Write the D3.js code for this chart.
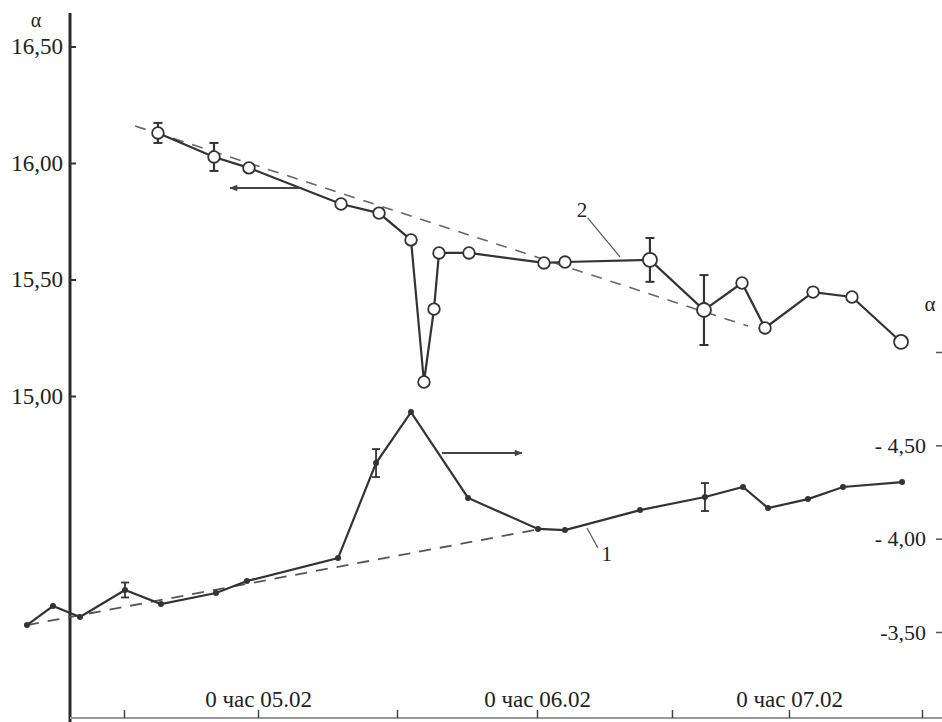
<!DOCTYPE html>
<html>
<head>
<meta charset="utf-8">
<script src="https://cdn.jsdelivr.net/npm/d3@7"></script>
<style>
  body { margin: 0; background: #fff; }
  svg, svg text { font-family: "Liberation Serif", "Times New Roman", Times, "DejaVu Serif", "Noto Serif", "Nimbus Roman", FreeSerif, serif; }
</style>
</head>
<body>
<div id="chart"></div>
<script>
// time in hours from 0 h 04.02
var timeTicks = [12, 24, 36, 48, 60, 72, 84];
var dayTicks = [24, 48, 72];
var dayLabels = ["0 час 05.02", "0 час 06.02", "0 час 07.02"];

var leftTicks = [15.0, 15.5, 16.0, 16.5];
var leftLabels = ["15,00", "15,50", "16,00", "16,50"];
var rightTicks = [-5.0, -4.5, -4.0, -3.5];
var rightLabels = ["", "- 4,50", "- 4,00", "-3,50"];

// curve 2 (left axis, open circles)
var hours2 = [15.04, 20.06, 23.19, 31.17, 34.45, 37.2, 38.31, 39.17, 39.6, 42.17,
              48.62, 50.49, 58.04, 63.28, 67.18, 69.54, 74.17, 77.68, 82.11];
var alpha2 = [16.129, 16.026, 15.979, 15.824, 15.785, 15.670, 15.060, 15.373, 15.614, 15.614,
              15.571, 15.575, 15.584, 15.369, 15.485, 15.292, 15.446, 15.425, 15.232];
var err2 = [0.043, 0.06, 0, 0, 0, 0, 0, 0, 0, 0,
            0, 0, 0.094, 0.15, 0, 0, 0, 0, 0];
var trend2Hours = [12.99, 67.8];
var trend2 = [16.159, 15.30];

// curve 1 (right axis, dots)
var hours1 = [3.31, 5.64, 8.06, 12.09, 15.31, 20.24, 23.01, 30.91, 34.19, 37.2,
              42.09, 48.09, 50.49, 57.16, 63.38, 67.28, 69.85, 73.71, 76.87, 82.2];
var alpha1 = [-3.537, -3.639, -3.580, -3.725, -3.650, -3.709, -3.773, -3.896, -4.405, -4.678,
              -4.218, -4.052, -4.046, -4.153, -4.223, -4.277, -4.164, -4.212, -4.277, -4.303];
var err1 = [0, 0, 0, 0.04, 0, 0, 0, 0, 0.075, 0,
            0, 0, 0, 0, 0.075, 0, 0, 0, 0, 0];
var trend1Hours = [3.31, 48.27];
var trend1 = [-3.537, -4.052];

var width = 942, height = 722;
var ink = "#333";
var serif = '"Liberation Serif", "Times New Roman", Times, "DejaVu Serif", "Noto Serif", "Nimbus Roman", FreeSerif, serif';

var svg = d3.select("#chart").append("svg")
  .attr("width", width)
  .attr("height", height)
  .style("background", "#fff");

var x = d3.scaleLinear()
  .domain(timeTicks)
  .range([124, 258, 397, 537, 672, 789, 922]);
var yL = d3.scaleLinear().domain([15, 16.5]).range([396, 46.5]);
var yR = d3.scaleLinear().domain([-5, -3.5]).range([352, 632]);

// arrowhead
svg.append("defs").append("marker")
  .attr("id", "head")
  .attr("viewBox", "0 0 10 10")
  .attr("refX", 9).attr("refY", 5)
  .attr("markerWidth", 14).attr("markerHeight", 8)
  .attr("markerUnits", "userSpaceOnUse")
  .attr("orient", "auto")
  .append("path")
  .attr("d", "M0,1 L10,5 L0,9 Z")
  .attr("fill", "#444");

// left axis
svg.append("line")
  .attr("x1", 70).attr("x2", 70)
  .attr("y1", 13).attr("y2", height)
  .attr("stroke", "#2a2a2a").attr("stroke-width", 3);

var gL = svg.append("g")
  .attr("transform", "translate(70,0)")
  .call(d3.axisLeft(yL).tickValues(leftTicks).tickSize(-6).tickPadding(7)
    .tickFormat(function(d, i){ return leftLabels[i]; }));
gL.attr("font-family", null);
gL.select(".domain").remove();
gL.selectAll("line").attr("stroke", ink).attr("stroke-width", 2);
gL.selectAll("text").style("font-size", "23px").style("font-family", serif).attr("fill", "#222");

// right axis (ticks only)
var gR = svg.append("g")
  .attr("transform", "translate(942,0)")
  .call(d3.axisLeft(yR).tickValues(rightTicks).tickSize(6).tickPadding(10)
    .tickFormat(function(d, i){ return rightLabels[i]; }));
gR.attr("font-family", null);
gR.select(".domain").remove();
gR.selectAll("line").attr("stroke", "#555").attr("stroke-width", 1.5);
gR.selectAll("text").style("font-size", "22px").style("font-family", serif).attr("fill", "#222");

// bottom axis
svg.append("line")
  .attr("x1", 70).attr("x2", width)
  .attr("y1", 718).attr("y2", 718)
  .attr("stroke", "#999").attr("stroke-width", 2);

var gB = svg.append("g")
  .attr("transform", "translate(0,718)")
  .call(d3.axisTop(x).tickValues(timeTicks).tickSize(8).tickPadding(3)
    .tickFormat(function(d){
      var k = dayTicks.indexOf(d);
      return k < 0 ? "" : dayLabels[k];
    }));
gB.attr("font-family", null);
gB.select(".domain").remove();
gB.selectAll("line").attr("stroke", "#444").attr("stroke-width", 1.5);
gB.selectAll("text").style("font-size", "23px").style("font-family", serif).attr("fill", "#222");

// axis names
svg.append("text").attr("x", 36).attr("y", 27)
  .attr("text-anchor", "middle").style("font-size", "20px").attr("fill", "#222").text("α");
svg.append("text").attr("x", 930).attr("y", 311)
  .attr("text-anchor", "middle").style("font-size", "21px").attr("fill", "#222").text("α");

// trend lines
var trendLine2 = d3.line().x(function(d){ return x(d[0]); }).y(function(d){ return yL(d[1]); });
var trendLine1 = d3.line().x(function(d){ return x(d[0]); }).y(function(d){ return yR(d[1]); });

svg.append("path")
  .datum(d3.zip(trend2Hours, trend2))
  .attr("d", trendLine2)
  .attr("fill", "none").attr("stroke", "#666")
  .attr("stroke-width", 1.6).attr("stroke-dasharray", "11,9");

svg.append("path")
  .datum(d3.zip(trend1Hours, trend1))
  .attr("d", trendLine1)
  .attr("fill", "none").attr("stroke", "#555")
  .attr("stroke-width", 1.8).attr("stroke-dasharray", "12,9");

// curve 1
var data1 = d3.zip(hours1, alpha1, err1);
svg.append("path")
  .datum(data1)
  .attr("d", trendLine1)
  .attr("fill", "none").attr("stroke", ink).attr("stroke-width", 2.2);

var eb1 = svg.selectAll(".eb1").data(data1.filter(function(d){ return d[2] > 0; }))
  .enter().append("g").attr("class", "eb1");
eb1.append("line")
  .attr("x1", function(d){ return x(d[0]); }).attr("x2", function(d){ return x(d[0]); })
  .attr("y1", function(d){ return yR(d[1] - d[2]); }).attr("y2", function(d){ return yR(d[1] + d[2]); })
  .attr("stroke", ink).attr("stroke-width", 1.8);
eb1.selectAll(".cap").data(function(d){ return [[d[0], d[1] - d[2]], [d[0], d[1] + d[2]]]; })
  .enter().append("line")
  .attr("x1", function(d){ return x(d[0]) - 4; }).attr("x2", function(d){ return x(d[0]) + 4; })
  .attr("y1", function(d){ return yR(d[1]); }).attr("y2", function(d){ return yR(d[1]); })
  .attr("stroke", ink).attr("stroke-width", 1.8);

svg.selectAll(".dot1").data(data1)
  .enter().append("circle")
  .attr("cx", function(d){ return x(d[0]); })
  .attr("cy", function(d){ return yR(d[1]); })
  .attr("r", 3)
  .attr("fill", ink);

// curve 2
var data2 = d3.zip(hours2, alpha2, err2);
svg.append("path")
  .datum(data2)
  .attr("d", trendLine2)
  .attr("fill", "none").attr("stroke", ink).attr("stroke-width", 2.2);

var eb2 = svg.selectAll(".eb2").data(data2.filter(function(d){ return d[2] > 0; }))
  .enter().append("g").attr("class", "eb2");
eb2.append("line")
  .attr("x1", function(d){ return x(d[0]); }).attr("x2", function(d){ return x(d[0]); })
  .attr("y1", function(d){ return yL(d[1] - d[2]); }).attr("y2", function(d){ return yL(d[1] + d[2]); })
  .attr("stroke", ink).attr("stroke-width", 2.2);
eb2.selectAll(".cap").data(function(d){ return [[d[0], d[1] - d[2]], [d[0], d[1] + d[2]]]; })
  .enter().append("line")
  .attr("x1", function(d){ return x(d[0]) - 4.5; }).attr("x2", function(d){ return x(d[0]) + 4.5; })
  .attr("y1", function(d){ return yL(d[1]); }).attr("y2", function(d){ return yL(d[1]); })
  .attr("stroke", ink).attr("stroke-width", 2);

svg.selectAll(".dot2").data(data2)
  .enter().append("circle")
  .attr("cx", function(d){ return x(d[0]); })
  .attr("cy", function(d){ return yL(d[1]); })
  .attr("r", function(d, i){ return (d[2] > 0.08 || i === data2.length - 1) ? 7 : 5.8; })
  .attr("fill", "#fff")
  .attr("stroke", ink).attr("stroke-width", 1.8);

// arrows showing which axis each curve belongs to
svg.append("line")
  .attr("x1", x(27.8)).attr("x2", x(21.5))
  .attr("y1", yL(15.893)).attr("y2", yL(15.893))
  .attr("stroke", "#444").attr("stroke-width", 2)
  .attr("marker-end", "url(#head)");
svg.append("line")
  .attr("x1", x(39.86)).attr("x2", x(46.71))
  .attr("y1", yR(-4.459)).attr("y2", yR(-4.459))
  .attr("stroke", "#444").attr("stroke-width", 2)
  .attr("marker-end", "url(#head)");

// curve numbers
svg.append("line")
  .attr("x1", x(52.5)).attr("y1", yL(15.764))
  .attr("x2", x(55.38)).attr("y2", yL(15.597))
  .attr("stroke", "#555").attr("stroke-width", 1.2);
svg.append("text").attr("x", x(52.0)).attr("y", yL(15.798) + 7)
  .attr("text-anchor", "middle").style("font-size", "21px").attr("fill", "#222").text("2");

svg.append("line")
  .attr("x1", x(52.44)).attr("y1", yR(-4.057))
  .attr("x2", x(53.42)).attr("y2", yR(-3.95))
  .attr("stroke", "#555").attr("stroke-width", 1.2);
svg.append("text").attr("x", x(54.2)).attr("y", yR(-3.923) + 8)
  .attr("text-anchor", "middle").style("font-size", "21px").attr("fill", "#222").text("1");
</script>
</body>
</html>
